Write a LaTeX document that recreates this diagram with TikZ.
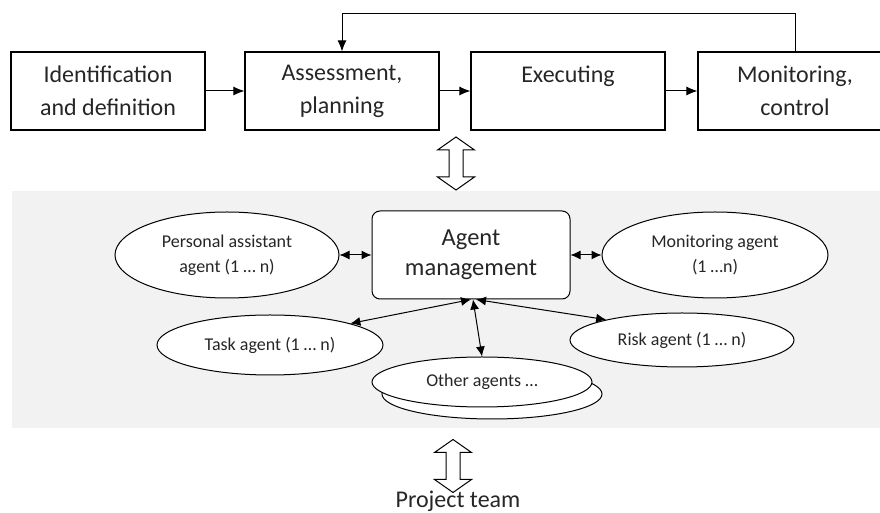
\documentclass[tikz,border=0pt]{standalone}
\usepackage{fontspec}
\setmainfont{Carlito}
\usetikzlibrary{arrows.meta,shapes.geometric}

\begin{document}
\begin{tikzpicture}[x=1pt, y=1pt,
    every node/.style={text=black!85},
    phase/.style={draw=black, line width=1.1pt, minimum width=194pt, minimum height=78pt, inner sep=0pt, align=center, font=\fontsize{24}{33}\selectfont},
    agent/.style={draw=black, ellipse, fill=white, line width=1pt, inner sep=0pt, align=center, font=\fontsize{18}{25}\selectfont},
    flow/.style={line width=1pt, -{Latex[length=11pt,width=9pt]}},
    link/.style={line width=1pt, {Latex[length=10pt,width=9pt]}-{Latex[length=10pt,width=9pt]}},
    hollow/.style={draw, line width=1pt, fill=white}]
\useasboundingbox (0,0) rectangle (880,513);

% Agent panel
\fill[gray!10] (12,85) rectangle (880,322);

% Project phases
\node[phase] (idf) at (108,422) {Identification\\and definition};
\node[phase] (asp) at (342,422) {Assessment,\\planning};
\node[phase] (exe) at (568,422) {Executing\\\mbox{}};
\node[phase] (mon) at (795,422) {Monitoring,\\control};

\draw[flow] (idf) -- (asp);
\draw[flow] (asp) -- (exe);
\draw[flow] (exe) -- (mon);
\draw[flow] (mon.north) -- ++(0,38) -| (asp.north);

% Agents
\node[draw=black, rounded corners=8pt, fill=white, line width=1pt, minimum width=198pt, minimum height=88pt, align=center, font=\fontsize{24.5}{30}\selectfont] (mgmt) at (471,258) {Agent\\management};

\node[agent, minimum width=224pt, minimum height=86pt] (pers) at (227,258) {Personal assistant\\agent (1 … n)};
\node[agent, minimum width=226pt, minimum height=86pt] (moni) at (715,258) {Monitoring agent\\(1 …n)};
\node[agent, minimum width=226pt, minimum height=60pt] (task) at (270,168) {Task agent (1 … n)};
\node[agent, minimum width=224pt, minimum height=54pt] (risk) at (682,173) {Risk agent (1 … n)};
\node[agent, minimum width=220pt, minimum height=50pt] (more) at (492,119) {};
\node[agent, minimum width=220pt, minimum height=50pt] (other) at (482,131) {Other agents …};

\draw[link] (pers) -- (mgmt);
\draw[link] (mgmt) -- (moni);
\draw[link] (task.15) -- (mgmt.south);
\draw[link] ([xshift=5pt]mgmt.south) -- (risk.165);
\draw[link] ([xshift=2pt]mgmt.south) -- (other.north);

% Double arrows
\foreach \x/\y in {456/349.5, 453/47} {
    \draw[hollow] (\x,\y) ++(0,26.5) -- ++(18.5,-13) -- ++(-11.5,0) -- ++(0,-27) -- ++(11.5,0)
        -- ++(-18.5,-13) -- ++(-18.5,13) -- ++(11.5,0) -- ++(0,27) -- ++(-11.5,0) -- cycle;
}

% Team
\node[font=\fontsize{24}{28}\selectfont, anchor=base] (team) at (458,5) {Project team};
\end{tikzpicture}
\end{document}
